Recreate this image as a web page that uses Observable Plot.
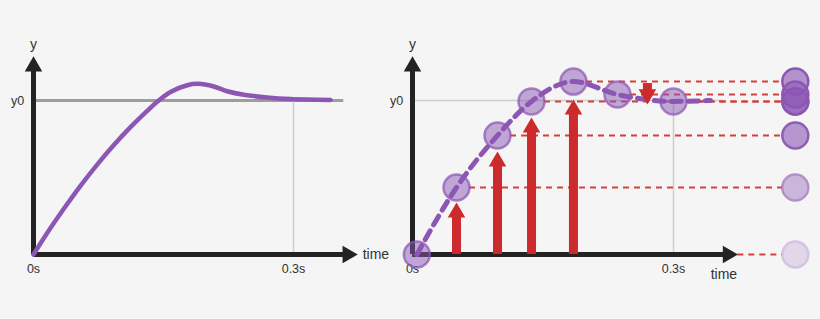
<!DOCTYPE html>
<html>
<head>
<meta charset="utf-8">
<script src="https://cdn.jsdelivr.net/npm/d3@7"></script>
<script src="https://cdn.jsdelivr.net/npm/@observablehq/plot@0.6"></script>
<style>
  html, body { margin: 0; padding: 0; background: #f5f5f5; }
  #wrap { position: relative; width: 820px; height: 319px; background: #f5f5f5; overflow: hidden; }
  #wrap svg { position: absolute; left: 0; top: 0; }
</style>
</head>
<body>
<div id="wrap"></div>
<script>
// ---- data (time in seconds, value relative to target y0 = 1) ----
const curveTime  = [0, 0.0158, 0.035, 0.0542, 0.0735, 0.0927, 0.1119, 0.1312, 0.1427, 0.1581, 0.1773, 0.190, 0.208, 0.2235, 0.2427, 0.2696, 0.2965, 0.3427];
const curveValue = [0, 0.140, 0.297, 0.446, 0.584, 0.711, 0.827, 0.933, 0.992, 1.055, 1.099, 1.108, 1.091, 1.060, 1.037, 1.020, 1.010, 1.004];

const stepTime  = [0.005, 0.0506, 0.0977, 0.1368, 0.185, 0.2356, 0.30];
const stepValue = [0, 0.435, 0.773, 0.994, 1.123, 1.039, 0.994];
const trailEndTime = 0.3425;
const trailEndValue = 1.0;

const pushTime = [0.0506, 0.0977, 0.1368, 0.185];
const pushTip  = [0.331, 0.662, 0.883, 1.0];
const pullTime = [0.270];
const pullFrom = [1.110];
const pullTip  = [0.981];

const historyTime = 0.44;
const targetValue = 1;
const targetLabel = "y0";
const tickTime   = [0, 0.3];
const tickLabels = ["0s", "0.3s"];
const axisTimeEnd = 0.374;
const axisValueTop = 1.286;
const targetLineEnd = 0.358;
const xLabel = "time";
const yLabel = "y";

// ---- styling ----
const PURPLE = "#8c57b4";
const RED = "#cc2a2c";
const RED_DASH = "#d5403d";
const AXIS = "#232323";
const FONT = "Helvetica, Arial, 'Liberation Sans', sans-serif";

const curve = curveTime.map((t, i) => ({t, v: curveValue[i]}));
const steps = stepTime.map((t, i) => ({t, v: stepValue[i], i}));
const trail = [...steps, {t: trailEndTime, v: trailEndValue}];
const pushes = pushTime.map((t, i) => ({t, tip: pushTip[i], base: 0}));
const pulls = pullTime.map((t, i) => ({t, from: pullFrom[i], tip: pullTip[i]}));
const ticks = tickTime.map((t, i) => ({t, v: 0, label: tickLabels[i]}));

function axesMarks(timeLabelOpts) {
  return [
    Plot.ruleX([{t: 0, top: axisValueTop, bottom: 0}], {x: "t", y1: "top", y2: "bottom", stroke: AXIS, strokeWidth: 5, insetTop: 12}),
    Plot.dot([{t: 0, v: axisValueTop}], {x: "t", y: "v", symbol: "triangle", r: 6.5, fill: AXIS, stroke: "none", dy: 10}),
    Plot.ruleY([{v: 0, start: 0, end: axisTimeEnd}], {y: "v", x1: "start", x2: "end", stroke: AXIS, strokeWidth: 5, insetRight: 12}),
    Plot.dot([{t: axisTimeEnd, v: 0}], {x: "t", y: "v", symbol: "triangle", r: 6.5, fill: AXIS, stroke: "none", rotate: 90, dx: -10}),
    Plot.text(ticks, {x: "t", y: "v", text: "label", dy: 14, fontSize: 12.5, fill: "#333", textAnchor: "middle"}),
    Plot.text([{t: 0, v: axisValueTop, label: yLabel}], {x: "t", y: "v", text: "label", dy: -12, fontSize: 14, fill: "#333"}),
    Plot.text([{t: 0, v: targetValue, label: targetLabel}], {x: "t", y: "v", text: "label", dx: -16, fontSize: 12.5, fill: "#333"}),
    Plot.text([{t: axisTimeEnd, v: 0, label: xLabel}], {x: "t", y: "v", text: "label", fontSize: 14, fill: "#333", ...timeLabelOpts})
  ];
}

const common = {
  width: 820,
  height: 319,
  margin: 0,
  style: {background: "transparent", overflow: "visible", fontFamily: FONT}
};

// Left: continuous response
const left = Plot.plot({
  ...common,
  x: {domain: [0, 0.3], range: [33, 293], axis: null},
  y: {domain: [0, 1], range: [254, 100], axis: null},
  marks: [
    Plot.ruleY([{v: targetValue, start: 0, end: targetLineEnd}], {y: "v", x1: "start", x2: "end", stroke: "#9d9d9d", strokeWidth: 3}),
    Plot.ruleX([{t: 0.3, top: targetValue, bottom: 0}], {x: "t", y1: "top", y2: "bottom", stroke: "#cdcdcd", strokeWidth: 1.5}),
    ...axesMarks({textAnchor: "start", dx: 5}),
    Plot.line(curve, {x: "t", y: "v", curve: "catmull-rom", stroke: PURPLE, strokeWidth: 4.5, strokeLinecap: "round"})
  ]
});

// Right: discrete steps
const right = Plot.plot({
  ...common,
  x: {domain: [0, 0.3], range: [412, 673], axis: null},
  y: {domain: [0, 1], range: [254, 100], axis: null},
  marks: [
    Plot.ruleY([{v: targetValue, start: 0, end: targetLineEnd}], {y: "v", x1: "start", x2: "end", stroke: "#cdcdcd", strokeWidth: 1.5}),
    Plot.ruleX([{t: 0.3, top: targetValue, bottom: 0}], {x: "t", y1: "top", y2: "bottom", stroke: "#cdcdcd", strokeWidth: 1.5}),
    Plot.ruleY(steps, {y: "v", x1: "t", x2: () => historyTime, insetLeft: 13, insetRight: 13, stroke: RED_DASH, strokeWidth: 2, strokeDasharray: "6,5"}),
    ...axesMarks({textAnchor: "middle", dx: -14, dy: 20}),
    Plot.line(trail, {x: "t", y: "v", curve: "monotone-x", stroke: PURPLE, strokeWidth: 5, strokeDasharray: "10,7"}),
    Plot.ruleX(pushes, {x: "t", y1: "tip", y2: "base", stroke: RED, strokeWidth: 9, insetTop: 10}),
    Plot.dot(pushes, {x: "t", y: "tip", symbol: "triangle", r: 6.5, fill: RED, stroke: "none", dy: 9}),
    Plot.ruleX(pulls, {x: "t", y1: "from", y2: "tip", stroke: RED, strokeWidth: 9, insetBottom: 10}),
    Plot.dot(pulls, {x: "t", y: "tip", symbol: "triangle", r: 6.5, fill: RED, stroke: "none", rotate: 180, dy: -9}),
    Plot.dot(steps, {x: "t", y: "v", r: 13, fill: PURPLE, fillOpacity: 0.5, stroke: PURPLE, strokeOpacity: 0.72, strokeWidth: 2.5}),
    Plot.dot(steps, {x: () => historyTime, y: "v", r: 13, fill: PURPLE, fillOpacity: 0.62, stroke: PURPLE, strokeWidth: 2.5,
      opacity: (d) => Math.min(1, 0.3 + 0.33 * d.i)})
  ]
});

const wrap = document.getElementById("wrap");
wrap.appendChild(left);
wrap.appendChild(right);
</script>
</body>
</html>
